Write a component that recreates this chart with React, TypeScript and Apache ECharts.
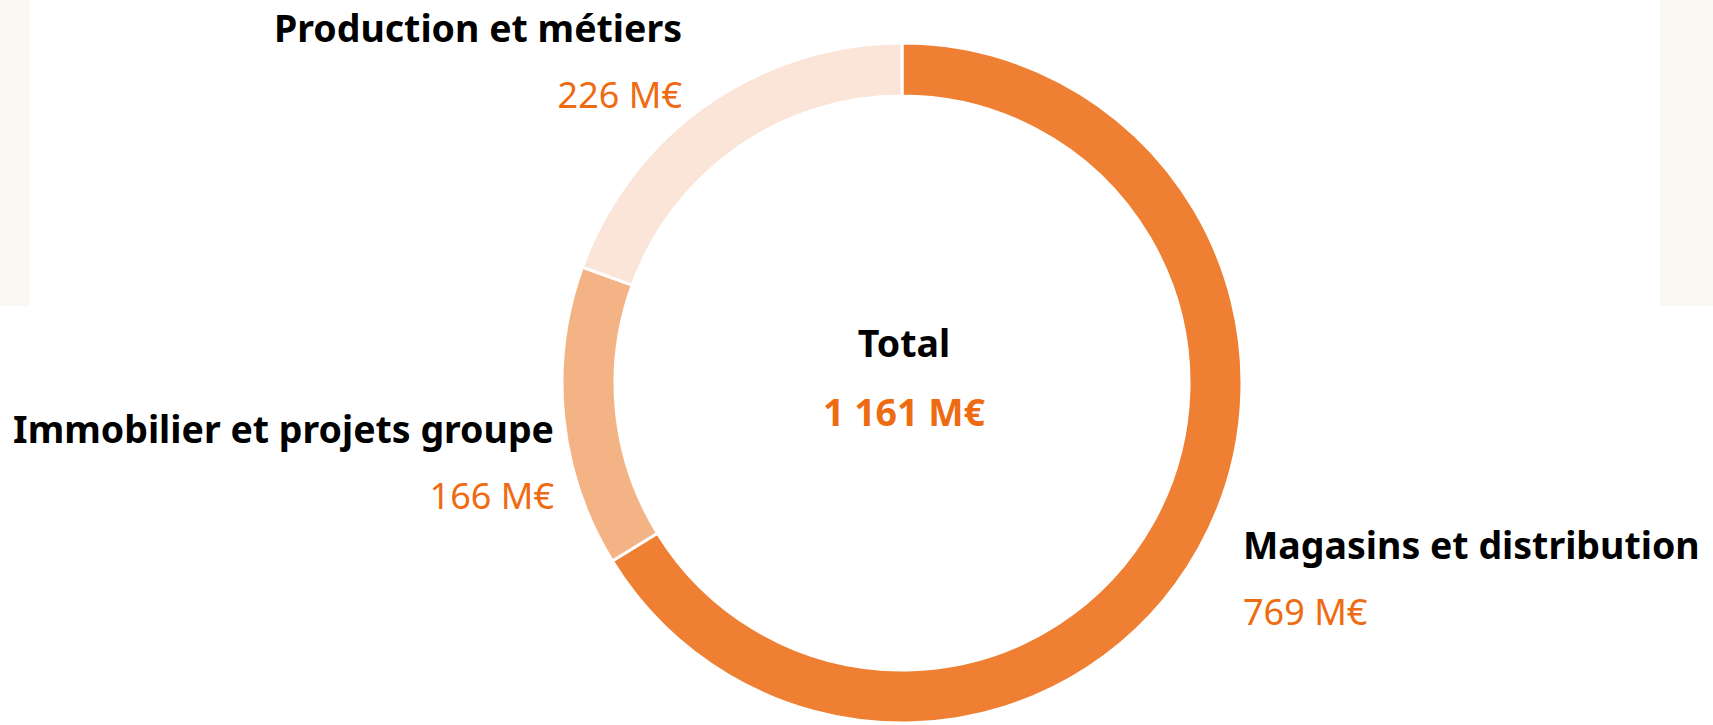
import React, { useEffect, useRef } from "react";
import * as echarts from "echarts";

const categories = ["Magasins et distribution", "Immobilier et projets groupe", "Production et métiers"];
const values = [769, 166, 226];
const colors = ["#EE7F33", "#F4B385", "#FAE5D8"];
const totalLabel = "Total";
const unit = "M€";

// label anchors (layout only)
const labelAnchors = [
  { x: 1243, y: 578, align: "left" },
  { x: 554, y: 462, align: "right" },
  { x: 682, y: 61, align: "right" },
];

const FONT = "'Noto Sans', Lato, sans-serif";
const ORANGE = "#EE6B12";
const FS_BOLD = 37.5;
const FS = 36;

function fmt(n: number): string {
  return String(n).replace(/\B(?=(\d{3})+(?!\d))/g, " ");
}

export default function App() {
  const ref = useRef<HTMLDivElement>(null);
  useEffect(() => {
    if (!ref.current) return;
    const chart = echarts.init(ref.current, undefined, { renderer: "svg" });
    const total = values.reduce((a, b) => a + b, 0);
    const data = categories.map((name, i) => ({
      name,
      value: values[i],
      itemStyle: { color: colors[i] },
      label: {
        align: labelAnchors[i].align,
        rich: {
          n: { fontFamily: FONT, fontSize: FS_BOLD, fontWeight: "bold", color: "#000", lineHeight: 67, align: labelAnchors[i].align },
          v: { fontFamily: FONT, fontSize: FS, fontWeight: "normal", color: ORANGE, lineHeight: 67, align: labelAnchors[i].align },
        },
      },
    }));
    chart.setOption({
      animation: false,
      backgroundColor: "#ffffff",
      graphic: [
        { type: "rect", shape: { x: 0, y: 0, width: 30, height: 306 }, style: { fill: "#FBF8F3" }, z: -10 },
        { type: "rect", shape: { x: 1660, y: 0, width: 60, height: 306 }, style: { fill: "#FBF8F3" }, z: -10 },
        {
          type: "text",
          x: 904,
          y: 342,
          style: { text: totalLabel, fontFamily: FONT, fontSize: FS_BOLD, fontWeight: "bold", fill: "#000", align: "center", verticalAlign: "middle" },
        },
        {
          type: "text",
          x: 904,
          y: 411,
          style: { text: `${fmt(total)} ${unit}`, fontFamily: FONT, fontSize: FS_BOLD, fontWeight: "bold", fill: ORANGE, align: "center", verticalAlign: "middle" },
        },
      ],
      series: [
        {
          type: "pie",
          center: [902, 383],
          radius: [287, 340],
          startAngle: 90,
          clockwise: true,
          avoidLabelOverlap: false,
          itemStyle: { borderColor: "#ffffff", borderWidth: 3 },
          label: {
            show: true,
            formatter: (p: any) => `{n|${p.name}}\n{v|${p.value} ${unit}}`,
          },
          labelLine: { show: false },
          labelLayout: (p: any) => {
            const a = labelAnchors[p.dataIndex];
            return { x: a.x, y: a.y, align: a.align, verticalAlign: "middle" };
          },
          emphasis: { disabled: true },
          data,
        },
      ],
    });
    return () => chart.dispose();
  }, []);
  return <div ref={ref} style={{ position: "absolute", left: 0, top: 0, width: 1713, height: 725 }} />;
}
